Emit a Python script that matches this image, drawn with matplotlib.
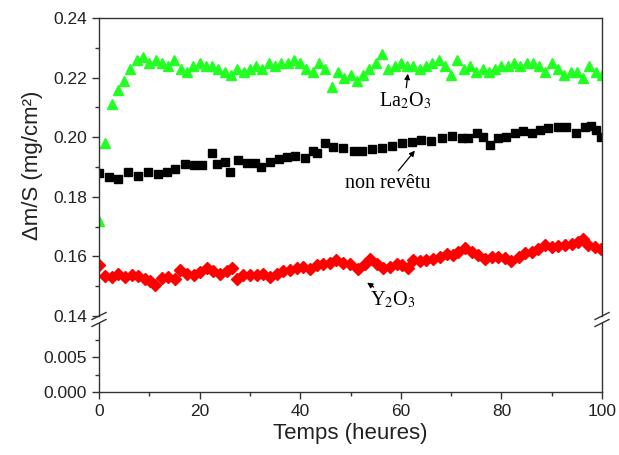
import numpy as np
import matplotlib
matplotlib.use("Agg")
import matplotlib.pyplot as plt
from matplotlib.lines import Line2D
from matplotlib.ticker import MultipleLocator

plt.rcParams['font.family'] = ['Liberation Sans', 'DejaVu Sans']
plt.rcParams['mathtext.fontset'] = 'stix'

# La2O3 (green triangles)
la_hours = np.arange(0, 100.1, 1.25)
la_vals = [0.172, 0.198, 0.211, 0.216, 0.219, 0.223, 0.226, 0.227, 0.225, 0.226,
           0.225, 0.224, 0.226, 0.223, 0.222, 0.224, 0.225, 0.224, 0.224, 0.223,
           0.222, 0.221, 0.223, 0.222, 0.223, 0.224, 0.223, 0.225, 0.224, 0.225,
           0.225, 0.226, 0.225, 0.223, 0.222, 0.225, 0.223, 0.217, 0.222, 0.220,
           0.221, 0.219, 0.221, 0.223, 0.225, 0.228, 0.223, 0.224, 0.225, 0.224,
           0.224, 0.223, 0.224, 0.225, 0.226, 0.224, 0.221, 0.226, 0.223, 0.224,
           0.222, 0.223, 0.222, 0.223, 0.224, 0.224, 0.225, 0.224, 0.225, 0.225,
           0.224, 0.222, 0.225, 0.223, 0.221, 0.222, 0.222, 0.220, 0.224, 0.222,
           0.221]

# non revetu (black squares)
nr_hours = [0, 1.9, 3.7, 5.8, 7.8, 9.8, 11.8, 13.5, 15.1, 17.1, 18.8, 20.4, 22.4, 23.4,
            25.1, 26.0, 27.7, 29.4, 31.0, 32.3, 34.0, 35.7, 37.3, 39.0, 41.0, 42.6,
            43.3, 45.0, 46.6, 48.6, 50.6, 52.2, 54.2, 56.2, 58.2, 60.2, 62.2, 64.1,
            66.1, 68.1, 70.1, 72.1, 73.4, 75.1, 76.4, 77.7, 79.4, 81.0, 82.7, 84.3,
            86.0, 87.7, 89.3, 91.3, 92.9, 94.9, 96.6, 97.9, 98.9, 99.9]
nr_vals = [0.1879, 0.1867, 0.1860, 0.1884, 0.1871, 0.1884, 0.1876, 0.1884, 0.1893, 0.1910,
           0.1907, 0.1907, 0.1946, 0.1910, 0.1918, 0.1884, 0.1923, 0.1912, 0.1912, 0.1901,
           0.1918, 0.1926, 0.1935, 0.1937, 0.1929, 0.1955, 0.1946, 0.1980, 0.1968, 0.1963,
           0.1955, 0.1954, 0.1959, 0.1963, 0.1970, 0.1980, 0.1985, 0.1991, 0.1988, 0.1996,
           0.2004, 0.1996, 0.1996, 0.2013, 0.2002, 0.1974, 0.1996, 0.2002, 0.2013, 0.2022,
           0.2013, 0.2024, 0.2030, 0.2033, 0.2035, 0.2013, 0.2035, 0.2039, 0.2024, 0.2002]

# Y2O3 (red diamonds)
y_hours = [0, 1.2, 2.5, 3.8, 5.2, 6.5, 7.8, 9.1, 10.1, 11.1, 12.5, 13.8, 15.1, 16.1,
           17.4, 18.8, 20.1, 21.4, 22.7, 24.1, 25.4, 26.4, 27.4, 28.7, 30.0, 31.4,
           32.7, 34.0, 35.3, 36.6, 38.0, 39.3, 40.6, 41.9, 43.3, 44.6, 45.9, 47.2,
           48.6, 49.9, 51.5, 52.9, 53.9, 55.2, 56.5, 57.8, 59.2, 60.2, 61.5, 62.5,
           63.8, 65.1, 66.5, 67.8, 69.1, 70.4, 71.4, 72.8, 74.1, 75.4, 76.7, 78.1,
           79.4, 80.7, 82.0, 83.4, 84.7, 86.0, 87.3, 88.7, 90.0, 91.3, 92.6, 94.0,
           95.3, 96.3, 97.3, 98.6, 99.9]
y_vals = [0.1570, 0.1534, 0.1531, 0.1542, 0.1531, 0.1537, 0.1534, 0.1525, 0.1516, 0.1503,
          0.1528, 0.1531, 0.1525, 0.1553, 0.1542, 0.1539, 0.1548, 0.1561, 0.1550, 0.1542,
          0.1550, 0.1561, 0.1525, 0.1537, 0.1539, 0.1537, 0.1542, 0.1531, 0.1542, 0.1550,
          0.1553, 0.1561, 0.1564, 0.1559, 0.1572, 0.1576, 0.1579, 0.1587, 0.1579, 0.1576,
          0.1557, 0.1576, 0.1592, 0.1576, 0.1561, 0.1564, 0.1576, 0.1570, 0.1561, 0.1587,
          0.1583, 0.1587, 0.1592, 0.1598, 0.1609, 0.1604, 0.1615, 0.1628, 0.1615, 0.1604,
          0.1590, 0.1598, 0.1598, 0.1595, 0.1583, 0.1598, 0.1612, 0.1615, 0.1626, 0.1637,
          0.1632, 0.1635, 0.1639, 0.1643, 0.1648, 0.1657, 0.1637, 0.1632, 0.1626]

W, H = 619, 455
fig = plt.figure(figsize=(W / 100, H / 100), dpi=100)

left, right = 99, 602
top_hi, bot_hi = 18, 316
top_lo, bot_lo = 323, 392


def rect(x0, x1, y0, y1):
    return [x0 / W, 1 - y1 / H, (x1 - x0) / W, (y1 - y0) / H]


ax = fig.add_axes(rect(left, right, top_hi, bot_hi))
axl = fig.add_axes(rect(left, right, top_lo, bot_lo))

ax.plot(la_hours, la_vals, '^', color='#22ff22', ms=7.5, mec='#22ff22', ls='none')
ax.plot(nr_hours, nr_vals, 's', color='black', ms=6, ls='none')
ax.plot(y_hours, y_vals, 'D', color='#ff0000', ms=6, ls='none')

for a in (ax, axl):
    a.set_xlim(0, 100)
    for s in a.spines.values():
        s.set_color('#333333')
        s.set_linewidth(1.0)

ax.set_ylim(0.14, 0.24)
ax.spines['bottom'].set_visible(False)
ax.tick_params(axis='x', which='both', bottom=False, labelbottom=False)
ax.yaxis.set_minor_locator(MultipleLocator(0.01))
ax.set_yticks([0.14, 0.16, 0.18, 0.20, 0.22, 0.24])
ax.set_yticklabels(['0.14', '0.16', '0.18', '0.20', '0.22', '0.24'])

axl.set_ylim(0, 0.00986)
axl.spines['top'].set_visible(False)
axl.set_yticks([0.0, 0.005])
axl.set_yticklabels(['0.000', '0.005'])
axl.yaxis.set_minor_locator(MultipleLocator(0.0025))
axl.set_xticks([0, 20, 40, 60, 80, 100])
axl.xaxis.set_minor_locator(MultipleLocator(10))

for a in (ax, axl):
    a.tick_params(which='major', direction='out', length=5, width=1, labelsize=12.5,
                  color='#333333', labelcolor='#222222')
    a.tick_params(which='minor', direction='out', length=3, width=1, color='#333333')
    a.tick_params(right=False, top=False, which='both')

axl.set_xlabel('Temps (heures)', fontsize=16, color='#222222', labelpad=3)
fig.text(33 / W, 1 - 165 / H, 'Δm/S (mg/cm²)', rotation=90, fontsize=16,
         color='#222222', ha='center', va='center')

# axis break marks
for xp in (left, right):
    for yp in (bot_hi, top_lo):
        fig.add_artist(Line2D([(xp - 7) / W, (xp + 7) / W],
                              [1 - (yp + 3.5) / H, 1 - (yp - 3.5) / H],
                              transform=fig.transFigure, color='#333333', lw=1.0))

serif = ['Liberation Serif', 'DejaVu Serif']
arrow = dict(arrowstyle='-|>', color='black', lw=0.9, mutation_scale=8, shrinkA=0, shrinkB=0)
ax.annotate('La$_2$O$_3$', xy=(61.4, 0.2213), xytext=(60.8, 0.2122), fontsize=14.5,
            family=serif, ha='center', va='center', arrowprops=arrow)
ax.annotate('non revêtu', xy=(62.8, 0.1955), xytext=(57.5, 0.1846), fontsize=14.5,
            family=serif, ha='center', va='center', arrowprops=arrow)
ax.annotate('Y$_2$O$_3$', xy=(53.3, 0.1512), xytext=(58.5, 0.1453), fontsize=14.5,
            family=serif, ha='center', va='center', arrowprops=arrow)

fig.savefig('out.png', dpi=100)
